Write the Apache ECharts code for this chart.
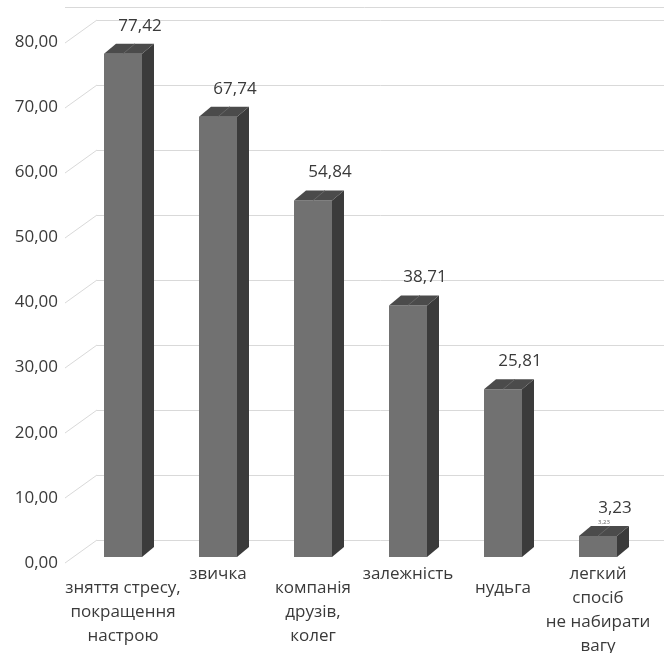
<!DOCTYPE html>
<html>
<head>
<meta charset="utf-8">
<script src="https://cdn.jsdelivr.net/npm/echarts@6/dist/echarts.min.js"></script>
<style>
html, body { margin: 0; padding: 0; background: #fff; }
#chart { width: 664px; height: 653px; }
</style>
</head>
<body>
<div id="chart"></div>
<script>
var categories = ['зняття стресу,\nпокращення\nнастрою', 'звичка', 'компанія\nдрузів,\nколег', 'залежність', 'нудьга', 'легкий\nспосіб\nне набирати\nвагу'];
var values = [77.42, 67.74, 54.84, 38.71, 25.81, 3.23];
var yTicks = [0, 10, 20, 30, 40, 50, 60, 70, 80];
var smallLabels = [[5, 3.23]];

var chart = echarts.init(document.getElementById('chart'));
var font = '"Open Sans", "Noto Sans", sans-serif';
var depthX = 12, depthY = 10, barW = 38;

function fmt(v) {
  return v.toFixed(2).replace('.', ',');
}

// 3d looking bar: front face, right side, top
function renderBar(params, api) {
  var i = api.value(0);
  var top = api.coord([i, api.value(1)]);
  var base = api.coord([i, 0]);
  var x0 = top[0] - barW / 2, x1 = top[0] + barW / 2;
  var y0 = top[1], y1 = base[1];
  return {
    type: 'group',
    children: [
      { type: 'rect', shape: { x: x0, y: y0, width: barW, height: y1 - y0 }, style: { fill: '#717171' } },
      { type: 'polygon', shape: { points: [[x1, y0], [x1 + depthX, y0 - depthY], [x1 + depthX, y1 - depthY], [x1, y1]] }, style: { fill: '#3b3b3b' } },
      { type: 'polygon', shape: { points: [[x0, y0], [x0 + depthX, y0 - depthY], [x1 + depthX, y0 - depthY], [x1, y0]] }, style: { fill: '#4b4b4b' } },
      { type: 'line', shape: { x1: top[0], y1: y0, x2: top[0] + depthX, y2: y0 - depthY }, style: { stroke: '#666', lineWidth: 1 } },
      { type: 'text', x: top[0] + 17, y: y0 - 28, style: { text: fmt(api.value(1)), fill: '#3a3a3a', font: '17px ' + font, align: 'center', verticalAlign: 'middle' } }
    ]
  };
}

// slanted floor lines going from the front edge to the back wall
function renderDiag(params, api) {
  var p = api.coord([0, api.value(1)]);
  return {
    type: 'line',
    shape: { x1: p[0] - 32, y1: p[1] + 23, x2: p[0], y2: p[1] },
    style: { stroke: '#d9d9d9', lineWidth: 1 }
  };
}

// odd categories sit one step lower, like the staggered labels in the original
var catData = categories.map(function (c, i) {
  return { value: c, textStyle: { padding: i % 2 ? [0, 0, 0, 0] : [14, 0, 0, 0] } };
});

var option = {
  backgroundColor: '#fff',
  animation: false,
  graphic: [{
    type: 'line',
    shape: { x1: 65, y1: 7.5, x2: 664, y2: 7.5 },
    style: { stroke: '#d9d9d9', lineWidth: 1 }
  }],
  grid: [
    { left: 97, right: 0, top: 20, bottom: 113, outerBoundsMode: 'none' },
    { left: 66, right: 0, top: 42, bottom: 90, outerBoundsMode: 'none' },
    { left: 75.5, right: 18.5, top: 37, bottom: 96, outerBoundsMode: 'none' }
  ],
  xAxis: [
    { gridIndex: 0, type: 'value', min: 0, max: 1, show: false },
    { gridIndex: 1, type: 'value', min: 0, max: 1, show: false },
    {
      gridIndex: 2,
      type: 'category',
      data: catData,
      axisLine: { show: false },
      axisTick: { show: false },
      axisLabel: {
        interval: 0,
        margin: 5,
        fontSize: 17,
        lineHeight: 24,
        color: '#3a3a3a',
        fontFamily: font
      }
    }
  ],
  yAxis: [
    {
      gridIndex: 0, type: 'value', min: 0, max: 80, interval: 10,
      axisLine: { show: false }, axisTick: { show: false }, axisLabel: { show: false },
      splitLine: { lineStyle: { color: '#d9d9d9', width: 1 } }
    },
    {
      gridIndex: 1, type: 'value', min: 0, max: 80, interval: 10,
      axisLine: { show: false }, axisTick: { show: false },
      splitLine: { show: false },
      axisLabel: {
        margin: 8,
        fontSize: 17,
        color: '#3a3a3a',
        fontFamily: font,
        formatter: fmt
      }
    },
    { gridIndex: 2, type: 'value', min: 0, max: 80, show: false }
  ],
  series: [
    {
      type: 'custom',
      xAxisIndex: 0,
      yAxisIndex: 0,
      renderItem: renderDiag,
      data: yTicks.map(function (v) { return [0, v]; }),
      silent: true
    },
    {
      type: 'custom',
      xAxisIndex: 2,
      yAxisIndex: 2,
      renderItem: renderBar,
      data: values.map(function (v, i) { return [i, v]; })
    },
    {
      type: 'scatter',
      xAxisIndex: 2,
      yAxisIndex: 2,
      symbolSize: 0,
      data: smallLabels,
      label: {
        show: true,
        position: 'inside',
        offset: [6, -14],
        fontSize: 6,
        color: '#3a3a3a',
        fontFamily: font,
        formatter: function (p) { return fmt(p.value[1]); }
      }
    }
  ]
};

chart.setOption(option);
</script>
</body>
</html>
